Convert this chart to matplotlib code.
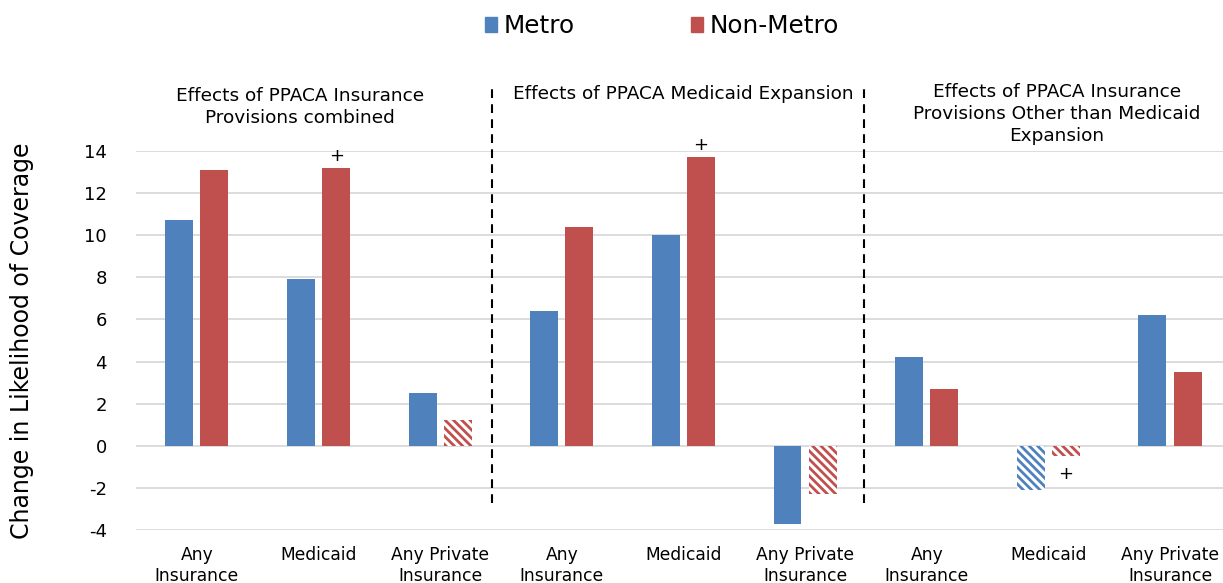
import matplotlib.pyplot as plt
from matplotlib.patches import Patch
import numpy as np

plt.rcParams['font.family'] = ['DejaVu Sans']
plt.rcParams['hatch.linewidth'] = 2.0
plt.rcParams['axes.unicode_minus'] = False

categories = ["Any\nInsurance", "Medicaid", "Any Private\nInsurance"] * 3
metro = [10.7, 7.9, 2.5, 6.4, 10.0, -3.7, 4.2, -2.1, 6.2]
non_metro = [13.1, 13.2, 1.2, 10.4, 13.7, -2.3, 2.7, -0.5, 3.5]
# hatched bars = not significant
metro_hatched = [False, False, False, False, False, False, False, True, False]
non_metro_hatched = [False, False, True, False, False, True, False, True, False]
# "+" markers on non-metro bars
plus_marks = [1, 4, 7]
group_titles = ["Effects of PPACA Insurance\nProvisions combined",
                "Effects of PPACA Medicaid Expansion",
                "Effects of PPACA Insurance\nProvisions Other than Medicaid\nExpansion"]
yticks = [-4, -2, 0, 2, 4, 6, 8, 10, 12, 14]

blue = "#4F81BD"
red = "#C0504D"

fig = plt.figure(figsize=(12.23, 5.83), dpi=100)
ax = fig.add_axes([0.1112, 0.091, 0.8953, 0.650])

x = np.arange(len(categories))
w = 0.23
off = 0.145

for i in x:
    for vals, hat, col, dx in [(metro, metro_hatched, blue, -off),
                               (non_metro, non_metro_hatched, red, off)]:
        if hat[i]:
            ax.bar(i + dx, vals[i], w, facecolor="white", edgecolor=col,
                   hatch="\\\\\\\\", linewidth=0, zorder=3)
        else:
            ax.bar(i + dx, vals[i], w, color=col, zorder=3)

for i in plus_marks:
    v = non_metro[i]
    if v >= 0:
        ax.text(i + off, v + 0.15, "+", ha="center", va="bottom", fontsize=13)
    else:
        ax.text(i + off, v - 0.4, "+", ha="center", va="top", fontsize=13)

ax.set_xlim(-0.5, 8.5)
ax.set_ylim(-4, 14)
ax.set_yticks(yticks)
ax.set_xticks(x)
ax.set_xticklabels(categories, fontsize=12.3, linespacing=1.2)
ax.tick_params(axis="x", length=0, pad=11.5)
ax.tick_params(axis="y", length=0, pad=21, labelsize=13)
ax.yaxis.grid(True, color="#D9D9D9", linewidth=1.3, zorder=0)
ax.set_axisbelow(True)
for s in ax.spines.values():
    s.set_visible(False)
ax.set_ylabel("Change in Likelihood of Coverage", fontsize=17, labelpad=36)

for xd in [2.43, 5.48]:
    ax.plot([xd, xd], [-2.7, 17.2], color="black", linestyle=(0, (4.2, 3)),
            linewidth=1.5, clip_on=False, zorder=4)

title_pos = [(0.85, 16.1), (4.0, 16.7), (7.07, 15.75)]
for (tx, ty), t in zip(title_pos, group_titles):
    ax.text(tx, ty, t, ha="center", va="center", fontsize=13.3, linespacing=1.3)

handles = [Patch(color=blue, label="Metro"), Patch(color=red, label="Non-Metro")]
fig.legend(handles=handles, loc="center", bbox_to_anchor=(0.541, 0.955), ncol=2,
           frameon=False, fontsize=17.8, handlelength=0.5, handleheight=0.5,
           handletextpad=0.25, columnspacing=4.7)

fig.savefig("out.png", dpi=100)
